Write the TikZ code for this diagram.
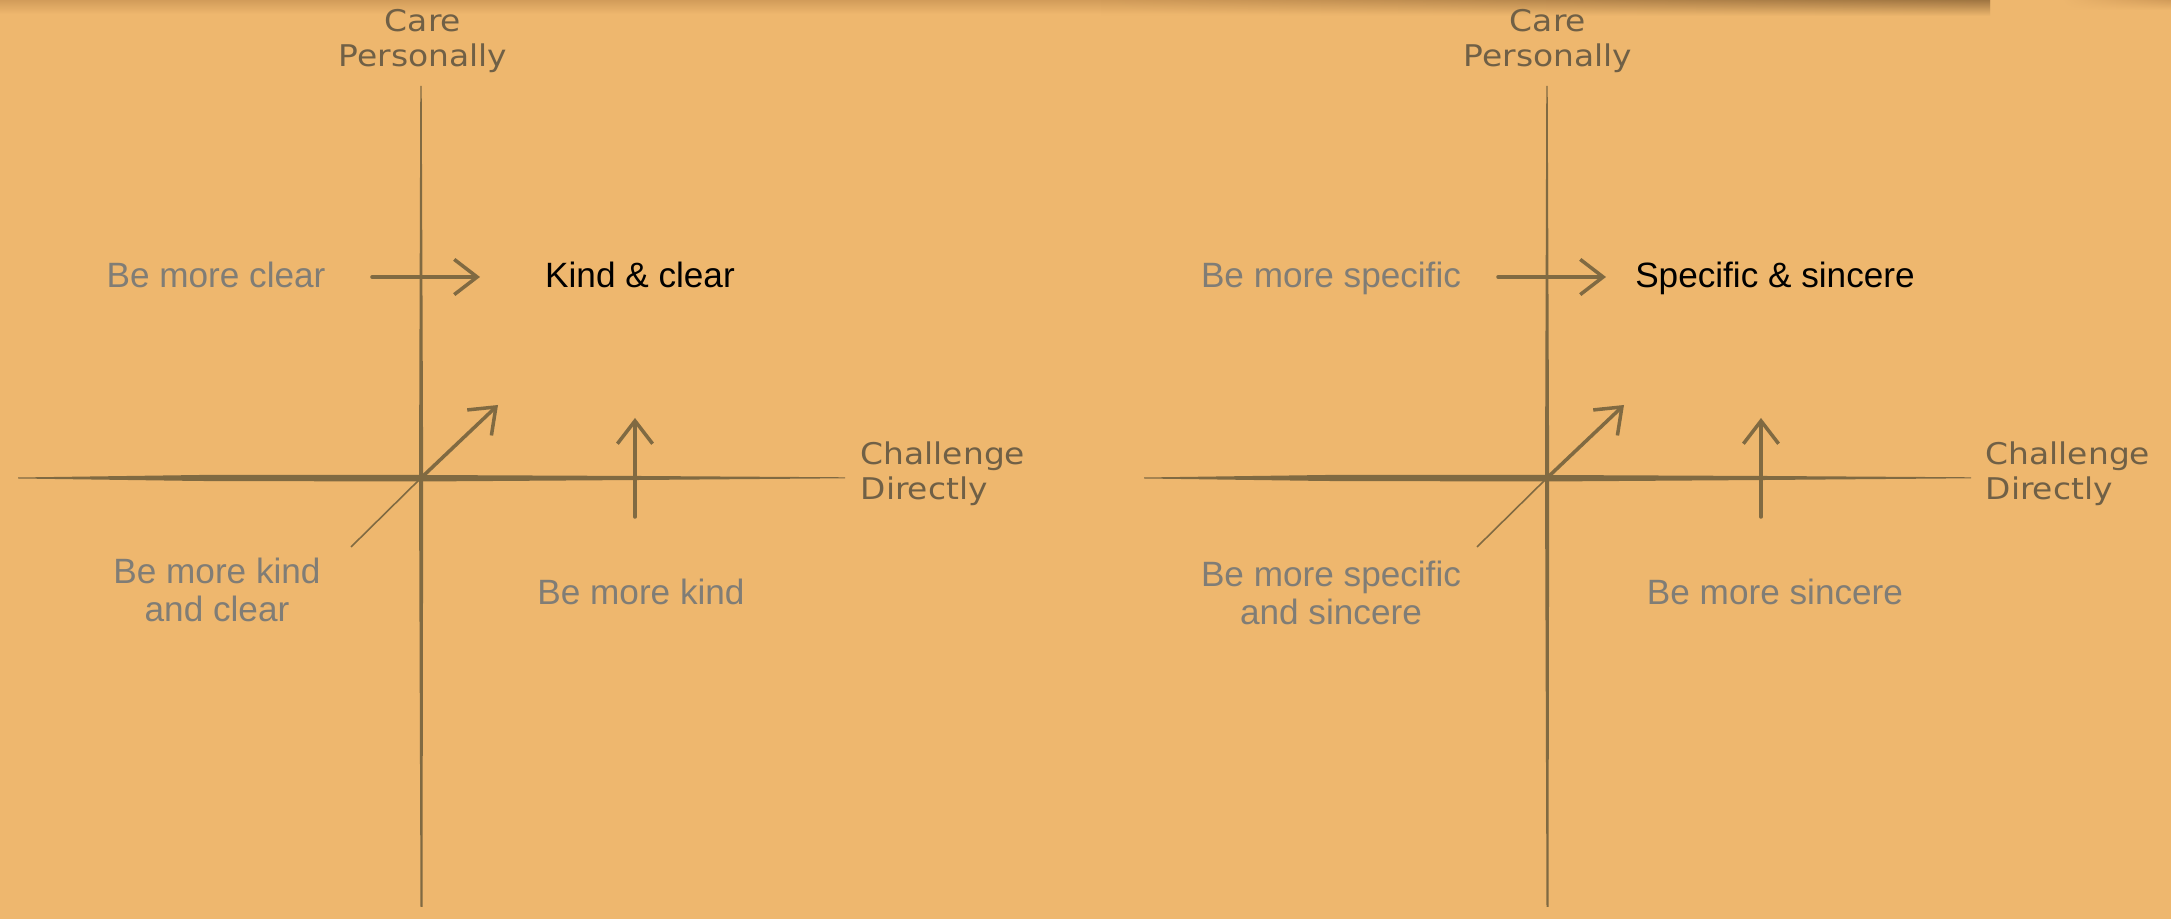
\documentclass[tikz,border=0pt]{standalone}
\usepackage{fontspec}
\setmainfont{Liberation Sans}
\newfontfamily\handfont[FakeStretch=1.1]{DejaVu Sans}
\usetikzlibrary{arrows.meta,fadings}
\definecolor{bgorange}{RGB}{238,183,110}
\definecolor{axisbrown}{RGB}{128,106,66}
\definecolor{hintgray}{RGB}{128,125,118}
\definecolor{handbrown}{RGB}{112,96,70}
\definecolor{edgeshade}{RGB}{210,156,90}
\definecolor{edgedark}{RGB}{160,118,66}
\tikzset{
  hint/.style={text=hintgray,font=\fontsize{10}{10.8}\selectfont,inner sep=0pt},
  goal/.style={text=black,font=\fontsize{10}{10.8}\selectfont,inner sep=0pt},
  axislabel/.style={text=handbrown,font=\handfont\fontsize{8.5}{10}\selectfont,inner sep=0pt},
  move/.style={draw=axisbrown,line width=1pt,line cap=round,-{Straight Barb[length=6.5pt,width=10pt]}},
}
\begin{document}
\begin{tikzpicture}[x=0.01cm,y=-0.01cm]
  \fill[bgorange] (0,0) rectangle (2171,919);
  \shade[top color=edgeshade,bottom color=bgorange] (0,0) rectangle (1990,14);
  \shade[top color=edgedark,bottom color=bgorange,path fading=west] (1100,0) rectangle (1990,16);
  \shade[top color=edgeshade,bottom color=bgorange,path fading=west] (2060,0) rectangle (2171,10);
  \useasboundingbox (0,0) rectangle (2171,919);
  \foreach \dx [count=\i] in {0,1126} {
    \begin{scope}[shift={(\dx,0)}]
      \fill[axisbrown] (420.3,86) -- (421.7,86) -- (423.2,480) -- (422.5,907) -- (420.5,907) -- (419,480) -- cycle;
      \fill[axisbrown] (18,477.5) -- (200,475) -- (421,475) -- (640,476) -- (845,477.3)
        -- (845,478.3) -- (640,480) -- (421,481.5) -- (200,481) -- (18,478.5) -- cycle;
      \coordinate (o\i) at (421,478);
      \coordinate (hs\i) at (372,277);
      \coordinate (he\i) at (480,277);
      \coordinate (ds\i) at (351,547);
      \coordinate (de\i) at (498,405);
      \coordinate (vs\i) at (635,517);
      \coordinate (ve\i) at (635,418);
      \draw[move] (hs\i) -- (he\i);
      \draw[axisbrown,line width=0.45pt] (ds\i) -- (o\i);
      \draw[move] (o\i) -- (de\i);
      \draw[move] (vs\i) -- (ve\i);
    \end{scope}
  }
  \node[axislabel,align=center] (care1) at (423,41) {Care\\Personally};
  \node[axislabel,align=left,anchor=west] (chal1) at (860,474) {Challenge\\Directly};
  \node[hint,anchor=base] (clear1) at (216,288) {Be more clear};
  \node[goal,anchor=base] (goal1) at (640,288) {Kind \& clear};
  \node[hint,align=center] (both1) at (217,590) {Be more kind\\and clear};
  \node[hint,anchor=base] (kind1) at (641,605) {Be more kind};
  \node[axislabel,align=center] (care2) at (1548,41) {Care\\Personally};
  \node[axislabel,align=left,anchor=west] (chal2) at (1985,474) {Challenge\\Directly};
  \node[hint,anchor=base] (spec2) at (1331,288) {Be more specific};
  \node[goal,anchor=base] (goal2) at (1775,288) {Specific \& sincere};
  \node[hint,align=center] (both2) at (1331,593) {Be more specific\\and sincere};
  \node[hint,anchor=base] (sinc2) at (1775,605) {Be more sincere};
\end{tikzpicture}
\end{document}
